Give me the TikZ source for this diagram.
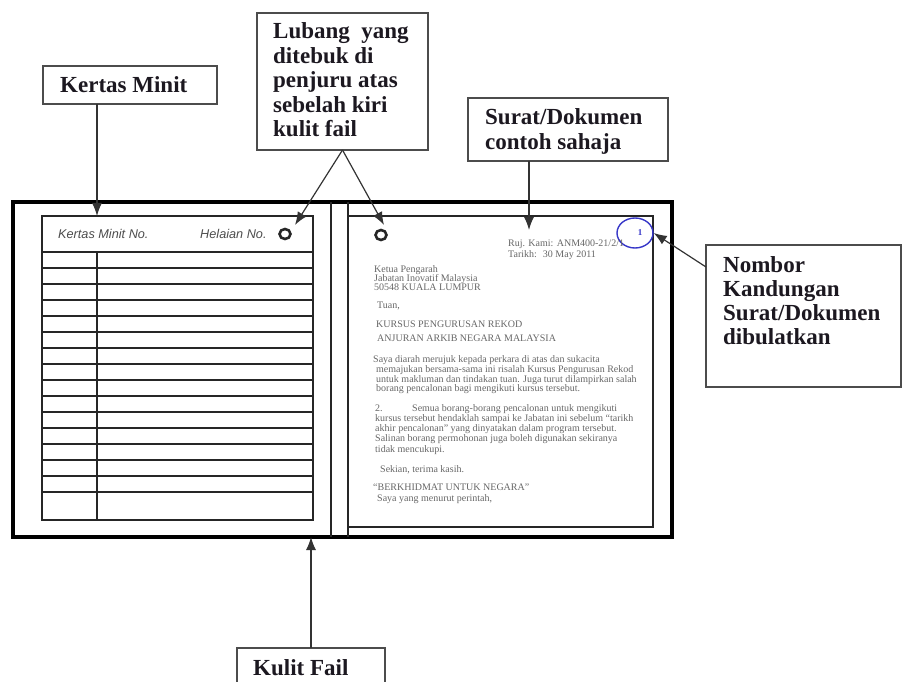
\documentclass[tikz,border=0pt]{standalone}
\usepackage{fontspec}
\setmainfont{Liberation Serif}
\newfontfamily\arialfont{Liberation Sans}
\usetikzlibrary{arrows.meta,shapes.geometric,calc}
\definecolor{lbltext}{RGB}{28,24,32}
\definecolor{circblue}{RGB}{55,55,200}
\begin{document}
\begin{tikzpicture}[x=1pt,y=-1pt,
  box/.style={draw=black!70, line width=1.4pt, fill=white, inner sep=0pt, outer sep=0pt, anchor=north west},
  lbl/.style={font=\fontsize{23}{25}\selectfont\bfseries, text=lbltext, inner sep=0pt, anchor=base west},
  arr/.style={draw=black!80, line width=1.2pt, -{Latex[length=13pt,width=10pt]}},
  sheet/.style={draw=black!85, line width=1.2pt},
  ltr/.style={font=\fontsize{10}{10}\selectfont, text=black!60, inner sep=0pt, anchor=base west},
  minhead/.style={font=\arialfont\itshape\fontsize{12.7}{13}\selectfont, text=black!70, inner sep=0pt, anchor=base west},
  hole/.style={draw=black!85, ellipse, line width=2.6pt, minimum width=11pt, minimum height=10pt, inner sep=0pt},
]
\clip (0,0) rectangle (903,682);

% outer file cover
\node[draw=black, line width=3.5pt, minimum width=659pt, minimum height=335pt, anchor=north west, inner sep=0pt, outer sep=0pt] (file) at (13,202) {};
\draw[sheet] (331,202) -- (331,537);
\draw[sheet] (348,202) -- (348,537);

% minute sheet
\node[sheet, draw, minimum width=271pt, minimum height=304pt, anchor=north west, inner sep=0pt, outer sep=0pt] (minit) at (42,216) {};
\foreach \k in {0,...,15} \draw[sheet] (42,{252+16*\k}) -- (313,{252+16*\k});
\draw[sheet] (97,252) -- (97,520);
\node[minhead] (kmno) at (58,238) {Kertas Minit No.};
\node[minhead] (helno) at (200,238) {Helaian No.};
\node[hole] (lhole) at (285,234) {};

% letter sheet
\node[sheet, draw, minimum width=305pt, minimum height=311pt, anchor=north west, inner sep=0pt, outer sep=0pt] (letter) at (348,216) {};
\node[hole] (rhole) at (381,235) {};
\node[draw=circblue, line width=1.4pt, ellipse, minimum width=36pt, minimum height=30pt, inner sep=0pt] (circ) at (635,233) {};
\node[font=\bfseries\fontsize{9}{9}\selectfont, text=circblue, inner sep=0pt] (num) at (640,233) {1};

\node[ltr] (l1) at (508,247) {Ruj. Kami: ANM400-21/2/1};
\node[ltr] (l2) at (508,257) {Tarikh:\hspace{6pt}30 May 2011};
\node[ltr] (l3) at (374,272) {Ketua Pengarah};
\node[ltr] (l4) at (374,281) {Jabatan Inovatif Malaysia};
\node[ltr] (l5) at (374,290) {50548 KUALA LUMPUR};
\node[ltr] (l6) at (377,308) {Tuan,};
\node[ltr] (l7) at (376,327) {KURSUS PENGURUSAN REKOD};
\node[ltr] (l8) at (377,341) {ANJURAN ARKIB NEGARA MALAYSIA};
\node[ltr] (p1a) at (373,362) {Saya diarah merujuk kepada perkara di atas dan sukacita};
\node[ltr] (p1b) at (376,372) {memajukan bersama-sama ini risalah Kursus Pengurusan Rekod};
\node[ltr] (p1c) at (376,382) {untuk makluman dan tindakan tuan. Juga turut dilampirkan salah};
\node[ltr] (p1d) at (376,391) {borang pencalonan bagi mengikuti kursus tersebut.};
\node[ltr] (p2n) at (375,411) {2.};
\node[ltr] (p2a) at (412,411) {Semua borang-borang pencalonan untuk mengikuti};
\node[ltr] (p2b) at (375,421) {kursus tersebut hendaklah sampai ke Jabatan ini sebelum “tarikh};
\node[ltr] (p2c) at (375,431) {akhir pencalonan” yang dinyatakan dalam program tersebut.};
\node[ltr] (p2d) at (375,441) {Salinan borang permohonan juga boleh digunakan sekiranya};
\node[ltr] (p2e) at (375,452) {tidak mencukupi.};
\node[ltr] (sek) at (380,472) {Sekian, terima kasih.};
\node[ltr] (bk) at (373,490) {“BERKHIDMAT UNTUK NEGARA”};
\node[ltr] (syp) at (377,501) {Saya yang menurut perintah,};

% label boxes
\node[box, minimum width=174pt, minimum height=38pt] (kmbox) at (43,66) {};
\node[lbl] (kmtxt) at (60,93) {Kertas Minit};

\node[box, minimum width=171pt, minimum height=137pt] (lubbox) at (257,13) {};
\foreach \t [count=\i] in {Lubang\ \ yang, ditebuk di, penjuru atas, sebelah kiri, kulit fail}
  \node[lbl] (lub\i) at (273,{39+24.5*(\i-1)}) {\t};

\node[box, minimum width=200pt, minimum height=63pt] (subox) at (468,98) {};
\node[lbl] (su1) at (485,125) {Surat/Dokumen};
\node[lbl] (su2) at (485,150) {contoh sahaja};

\node[box, minimum width=195pt, minimum height=142pt] (nbbox) at (706,245) {};
\node[lbl] (nb1) at (723,272) {Nombor};
\node[lbl] (nb2) at (723,296) {Kandungan};
\node[lbl] (nb3) at (723,320) {Surat/Dokumen};
\node[lbl] (nb4) at (723,344) {dibulatkan};

\node[box, minimum width=148pt, minimum height=60pt] (kfbox) at (237,648) {};
\node[lbl] (kftxt) at (253,675) {Kulit Fail};

% arrow tips
\coordinate (kmtip) at (97,216);
\coordinate (ltip) at (295,225);
\coordinate (rtip) at (384,225);
\coordinate (sutip) at (529,230);

% connectors
\draw[arr] (kmtip |- kmbox.south) -- (kmtip);
\draw[arr] (lubbox.south) -- (ltip);
\draw[arr] (lubbox.south) -- (rtip);
\draw[arr] (sutip |- subox.south) -- (sutip);
\draw[arr] ($(nbbox.north west)+(0,22)$) -- (circ.east);
\draw[arr] (kfbox.north) -- (kfbox.north |- file.south);
\end{tikzpicture}
\end{document}
